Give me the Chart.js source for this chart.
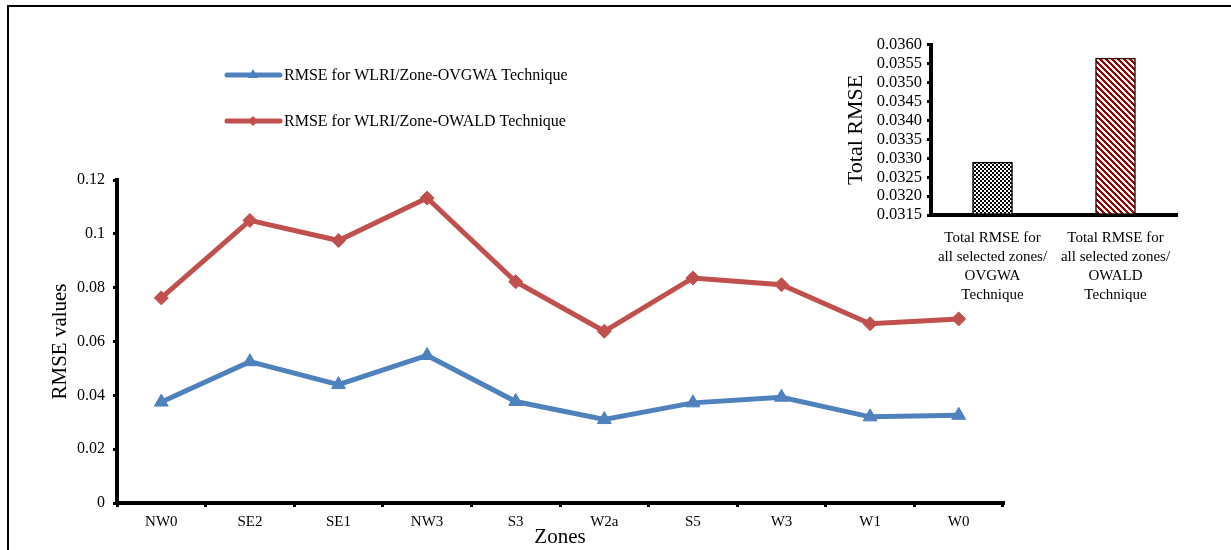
<!DOCTYPE html>
<html>
<head>
<meta charset="utf-8">
<script src="https://cdn.jsdelivr.net/npm/chart.js@4/dist/chart.umd.min.js"></script>
<style>
  html, body { margin: 0; padding: 0; background: #fff; }
  body { width: 1231px; height: 550px; position: relative; overflow: hidden; }
  #frame { position: absolute; left: 7px; top: 5px; width: 1240px; height: 560px;
           border-top: 2px solid #000; border-left: 2px solid #000; }
  #main { position: absolute; left: 0; top: 0; }
  #inset { position: absolute; left: 830px; top: 30px; }
</style>
</head>
<body>
<div id="frame"></div>
<canvas id="main" width="1231" height="550"></canvas>
<canvas id="inset" width="390" height="280"></canvas>
<script>
const zones = ['NW0', 'SE2', 'SE1', 'NW3', 'S3', 'W2a', 'S5', 'W3', 'W1', 'W0'];
const ovgwaRmse = [0.0375, 0.0525, 0.0440, 0.0548, 0.0377, 0.0310, 0.0372, 0.0393, 0.0320, 0.0326];
const owaldRmse = [0.0762, 0.1050, 0.0975, 0.1133, 0.0822, 0.0638, 0.0836, 0.0811, 0.0666, 0.0684];
const seriesNames = ['RMSE for WLRI/Zone-OVGWA Technique', 'RMSE for WLRI/Zone-OWALD Technique'];

const totalLabels = [
    ['Total RMSE for', 'all selected zones/', 'OVGWA', 'Technique'],
    ['Total RMSE for', 'all selected zones/', 'OWALD', 'Technique']
];
const totalRmse = [0.0329, 0.03565];

const serif = 'Liberation Serif';
const blue = '#4f81bd';
const red = '#c0504d';

// little legend drawn by hand, it sits above the plot on the left
const legendPlugin = {
    id: 'sideLegend',
    afterDraw(chart) {
        const ctx = chart.ctx;
        chart.data.datasets.forEach((ds, i) => {
            const y = 75 + i * 46;
            ctx.save();
            ctx.strokeStyle = ds.borderColor;
            ctx.lineWidth = 5;
            ctx.lineCap = 'round';
            ctx.beginPath();
            ctx.moveTo(227, y);
            ctx.lineTo(280, y);
            ctx.stroke();
            ctx.fillStyle = ds.borderColor;
            ctx.beginPath();
            if (ds.pointStyle === 'triangle') {
                ctx.moveTo(253, y - 6);
                ctx.lineTo(258, y + 3);
                ctx.lineTo(248, y + 3);
            } else {
                ctx.moveTo(253, y - 5);
                ctx.lineTo(258, y);
                ctx.lineTo(253, y + 5);
                ctx.lineTo(248, y);
            }
            ctx.closePath();
            ctx.fill();
            ctx.fillStyle = '#000';
            ctx.font = '16px "' + serif + '"';
            ctx.textBaseline = 'middle';
            ctx.fillText(ds.label, 284, y + 1);
            ctx.restore();
        });
    }
};

new Chart(document.getElementById('main'), {
    type: 'line',
    data: {
        labels: zones,
        datasets: [{
            label: seriesNames[0],
            data: ovgwaRmse,
            borderColor: blue,
            backgroundColor: blue,
            borderWidth: 5,
            pointStyle: 'triangle',
            pointRadius: 8,
            pointBackgroundColor: blue,
            pointBorderColor: blue,
            pointBorderWidth: 1,
            tension: 0
        }, {
            label: seriesNames[1],
            data: owaldRmse,
            borderColor: red,
            backgroundColor: red,
            borderWidth: 5,
            pointStyle: 'rectRot',
            pointRadius: 7,
            pointBackgroundColor: red,
            pointBorderColor: red,
            pointBorderWidth: 1,
            tension: 0
        }]
    },
    options: {
        responsive: false,
        animation: false,
        layout: { padding: { left: 0, right: 228, top: 180, bottom: 0 } },
        plugins: { legend: { display: false }, tooltip: { enabled: false } },
        scales: {
            x: {
                offset: true,
                grid: { display: true, drawOnChartArea: false, offset: true, color: '#000', tickLength: 4, lineWidth: 3 },
                border: { color: '#000', width: 4 },
                ticks: { color: '#000', font: { family: serif, size: 15 }, padding: 6, maxRotation: 0 },
                title: { display: true, text: 'Zones', color: '#000', font: { family: serif, size: 21 }, padding: { top: 0, bottom: 0 } },
                afterFit(s) { s.height = 47; }
            },
            y: {
                min: 0,
                max: 0.12,
                ticks: {
                    stepSize: 0.02,
                    color: '#000',
                    font: { family: serif, size: 16 },
                    padding: 8,
                    callback: v => String(+v.toFixed(2))
                },
                grid: { display: true, drawOnChartArea: false, color: '#000', tickLength: 4, lineWidth: 3 },
                border: { color: '#000', width: 4 },
                title: { display: true, text: 'RMSE values', color: '#000', font: { family: serif, size: 21 }, padding: { top: 48, bottom: 0 } },
                afterFit(s) { s.width = 117; }
            }
        }
    },
    plugins: [legendPlugin]
});

// fill patterns for the two totals
function checkerPattern(ctx) {
    const c = document.createElement('canvas');
    c.width = 4; c.height = 4;
    const g = c.getContext('2d');
    g.fillStyle = '#fff';
    g.fillRect(0, 0, 4, 4);
    g.fillStyle = '#000';
    g.fillRect(0, 0, 2, 2);
    g.fillRect(2, 2, 2, 2);
    return ctx.createPattern(c, 'repeat');
}

function stripePattern(ctx) {
    const n = 6;
    const c = document.createElement('canvas');
    c.width = n; c.height = n;
    const g = c.getContext('2d');
    g.fillStyle = '#fff';
    g.fillRect(0, 0, n, n);
    g.fillStyle = '#990000';
    for (let x = 0; x < n; x++) {
        for (let y = 0; y < n; y++) {
            if (((x - y) % n + n) % n < 3) g.fillRect(x, y, 1, 1);
        }
    }
    return ctx.createPattern(c, 'repeat');
}

const insetCtx = document.getElementById('inset').getContext('2d');

new Chart(insetCtx, {
    type: 'bar',
    data: {
        labels: totalLabels,
        datasets: [{
            data: totalRmse,
            base: 0.0315,
            backgroundColor: [checkerPattern(insetCtx), stripePattern(insetCtx)],
            borderColor: ['#000', '#3a0000'],
            borderWidth: 1.5,
            borderSkipped: 'bottom',
            barThickness: 40
        }]
    },
    options: {
        responsive: false,
        animation: false,
        layout: { padding: { left: 0, right: 43, top: 14, bottom: 0 } },
        plugins: { legend: { display: false }, tooltip: { enabled: false } },
        scales: {
            x: {
                grid: { display: false },
                border: { color: '#000', width: 4 },
                ticks: { color: '#000', font: { family: serif, size: 15, lineHeight: 1.25 }, padding: 6, maxRotation: 0, autoSkip: false },
                afterFit(s) { s.height = 95; }
            },
            y: {
                min: 0.0315,
                max: 0.036,
                ticks: {
                    stepSize: 0.0005,
                    autoSkip: false,
                    color: '#000',
                    font: { family: serif, size: 16.5 },
                    padding: 5,
                    callback: v => v.toFixed(4)
                },
                grid: { display: true, drawOnChartArea: false, color: '#000', tickLength: 4, lineWidth: 3 },
                border: { color: '#000', width: 4 },
                title: { display: true, text: 'Total RMSE', color: '#000', font: { family: serif, size: 22 }, padding: { top: 13, bottom: 0 } },
                afterFit(s) { s.width = 101; }
            }
        }
    }
});
</script>
</body>
</html>
